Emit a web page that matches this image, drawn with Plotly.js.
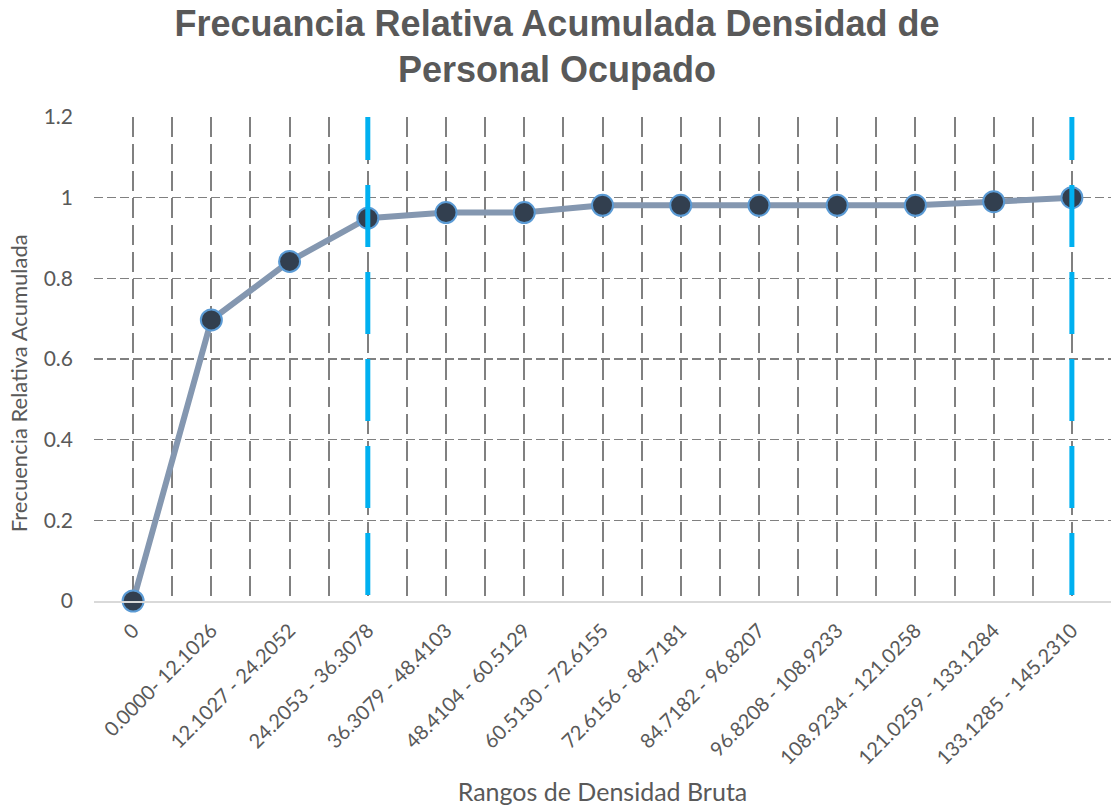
<!DOCTYPE html>
<html>
<head>
<meta charset="utf-8">
<script src="https://cdn.plot.ly/plotly-3.0.1.min.js"></script>
<style>html,body{margin:0;padding:0;background:#fff;}#chart{width:1114px;height:808px;}</style>
</head>
<body>
<div id="chart"></div>
<script>
// Data
const categories = [
  "0",
  "0.0000- 12.1026",
  "12.1027 - 24.2052",
  "24.2053 - 36.3078",
  "36.3079 - 48.4103",
  "48.4104 - 60.5129",
  "60.5130 - 72.6155",
  "72.6156 - 84.7181",
  "84.7182 - 96.8207",
  "96.8208 - 108.9233",
  "108.9234 - 121.0258",
  "121.0259 - 133.1284",
  "133.1285 - 145.2310"
];
const cumulativeFreq = [0, 0.697, 0.842, 0.949, 0.963, 0.963, 0.981, 0.981, 0.981, 0.981, 0.981, 0.990, 1.0];
const highlightCategories = ["24.2053 - 36.3078", "133.1285 - 145.2310"];
const yTickVals = [0, 0.2, 0.4, 0.6, 0.8, 1, 1.2];
const yRange = [0, 1.2];
const yTitle = 'Frecuencia Relativa Acumulada';
const xTitle = 'Rangos de Densidad Bruta';
const chartTitle = 'Frecuancia Relativa Acumulada Densidad de<br>Personal Ocupado';

const xIdx = categories.map((c, i) => i);

const mainTrace = {
  x: xIdx,
  y: cumulativeFreq,
  type: 'scatter',
  mode: 'lines+markers',
  cliponaxis: false,
  line: {color: '#8497B0', width: 6},
  marker: {color: '#323F4F', size: 21, line: {color: '#5B9BD5', width: 2}},
  hoverinfo: 'x+y',
  showlegend: false
};

const highlightTraces = highlightCategories.map(cat => {
  const i = categories.indexOf(cat);
  return {
    x: [i, i],
    y: [yRange[0], yRange[1]],
    type: 'scatter',
    mode: 'lines',
    cliponaxis: false,
    line: {color: '#00B0F0', width: 5, dash: '0px,6px,62px,19px'},
    hoverinfo: 'skip',
    showlegend: false
  };
});

const gridGray = '#808080';
const font = 'Lato, "Open Sans", sans-serif';

const layout = {
  width: 1114,
  height: 808,
  margin: {l: 94, r: 3, t: 117, b: 207},
  paper_bgcolor: '#ffffff',
  plot_bgcolor: '#ffffff',
  font: {family: font, color: '#595959'},
  title: {
    text: chartTitle,
    font: {family: '"Liberation Sans", Arial, sans-serif', size: 36, color: '#595959', weight: 'bold'},
    x: 0.5, xref: 'container', xanchor: 'center',
    y: 0.956, yref: 'container', yanchor: 'top'
  },
  xaxis: {
    range: [-0.5, 12.5],
    tickmode: 'array',
    tickvals: xIdx,
    ticktext: categories,
    tickangle: -45,
    tickfont: {family: font, size: 20, color: '#595959'},
    ticklabelstandoff: 8,
    ticks: '',
    showgrid: true,
    gridcolor: gridGray,
    gridwidth: 2,
    griddash: '20px,7px',
    minor: {tick0: 0.5, dtick: 1, showgrid: true, gridcolor: gridGray, gridwidth: 2, griddash: '20px,7px', ticks: ''},
    showline: true,
    linecolor: '#D9D9D9',
    linewidth: 2,
    zeroline: false,
    fixedrange: true,
    automargin: false,
    title: {text: xTitle, font: {family: font, size: 25, color: '#595959'}, standoff: 16}
  },
  yaxis: {
    range: yRange,
    tickmode: 'array',
    tickvals: yTickVals,
    tickfont: {family: font, size: 21, color: '#595959'},
    ticklabelstandoff: 20,
    ticks: '',
    showgrid: true,
    gridcolor: gridGray,
    gridwidth: 1.5,
    griddash: '9px,4px',
    zeroline: false,
    showline: false,
    fixedrange: true,
    automargin: false
  },
  annotations: [{
    text: yTitle,
    textangle: -90,
    xref: 'paper', yref: 'paper',
    x: 0, y: 0.45,
    xanchor: 'center', yanchor: 'middle',
    xshift: -76,
    showarrow: false,
    font: {family: font, size: 22, color: '#595959'}
  }],
  showlegend: false
};

Plotly.newPlot('chart', [mainTrace, ...highlightTraces], layout, {displayModeBar: false, staticPlot: true});
</script>
</body>
</html>
